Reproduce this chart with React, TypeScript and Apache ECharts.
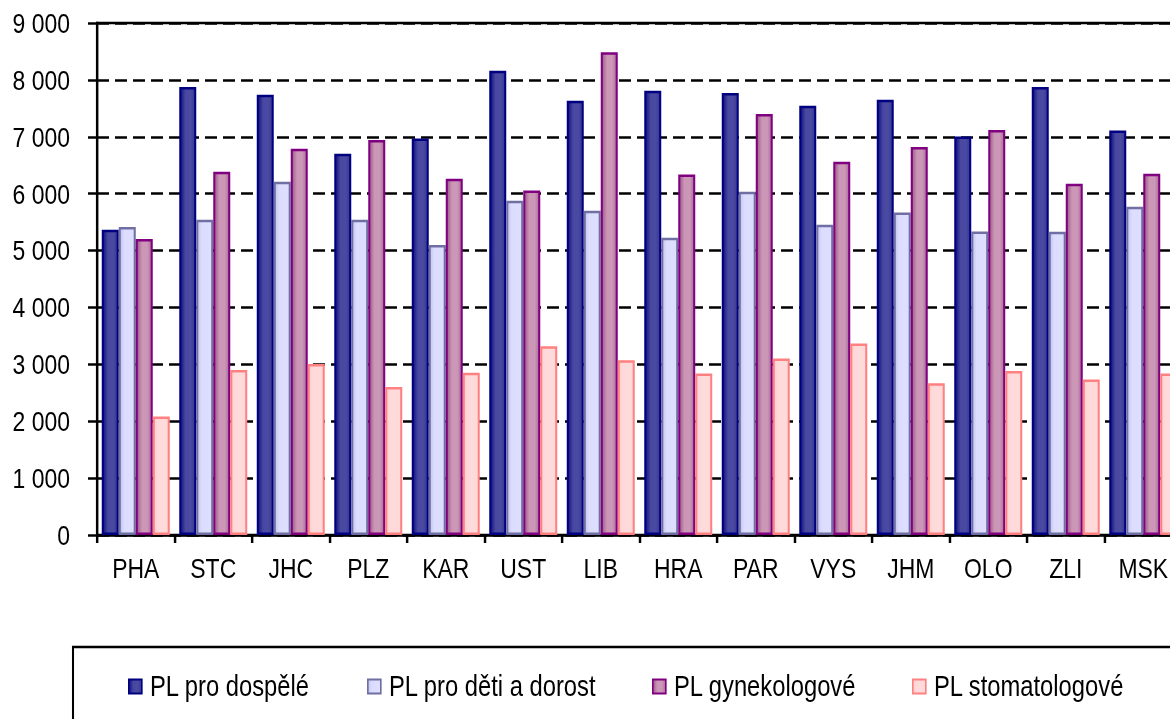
import { useEffect, useRef } from 'react';
import * as echarts from 'echarts';

const categories = ['PHA', 'STC', 'JHC', 'PLZ', 'KAR', 'UST', 'LIB', 'HRA', 'PAR', 'VYS', 'JHM', 'OLO', 'ZLI', 'MSK'];
const seriesNames = ['PL pro dospělé', 'PL pro děti a dorost', 'PL gynekologové', 'PL stomatologové'];
const adults = [5365, 7875, 7740, 6702, 6971, 8162, 7634, 7810, 7770, 7546, 7652, 7006, 7875, 7112];
const children = [5412, 5541, 6209, 5541, 5096, 5875, 5699, 5224, 6033, 5453, 5670, 5335, 5330, 5770];
const gynecology = [5201, 6385, 6790, 6943, 6262, 6057, 8484, 6338, 7400, 6561, 6820, 7118, 6174, 6350];
const dentistry = [2081, 2902, 3008, 2603, 2850, 3319, 3073, 2838, 3101, 3365, 2668, 2885, 2732, 2838];
const yTickLabels = ['0', '1 000', '2 000', '3 000', '4 000', '5 000', '6 000', '7 000', '8 000', '9 000'];

const FONT = "'Liberation Sans', Arial, sans-serif";
// The reference uses a condensed sans face; the whole chart is drawn wider and squeezed horizontally.
const SX = 0.82;
const W = 1170;
const H = 719;
const px = (v: number) => v / SX; // convert on-screen horizontal pixels to pre-scale pixels
const legendLefts = [128, 367, 652, 912];

const grad = (stops: [number, string][]) =>
  new echarts.graphic.LinearGradient(0, 0, 1, 0, stops.map(([offset, color]) => ({ offset, color })));

export default function App() {
  const ref = useRef<HTMLDivElement>(null);
  useEffect(() => {
    if (!ref.current) return;
    const chart = echarts.init(ref.current, undefined, { renderer: 'svg' });
    const styles = [
      {
        color: grad([[0, '#10107f'], [0.35, '#4848a0'], [0.7, '#4a4aa2'], [1, '#36368f']]),
        borderColor: '#000080',
      },
      {
        color: grad([[0, '#c4c4ec'], [0.3, '#dcdcff'], [1, '#dedeff']]),
        borderColor: '#6f6fa3',
      },
      {
        color: grad([[0, '#9a5a88'], [0.35, '#cc96b6'], [0.7, '#cc98b8'], [1, '#a86c98']]),
        borderColor: '#800080',
      },
      {
        color: grad([[0, '#ffd0d0'], [0.3, '#ffdada'], [1, '#ffdada']]),
        borderColor: '#ff8080',
      },
    ];
    const dataSets = [adults, children, gynecology, dentistry];
    chart.setOption({
      animation: false,
      textStyle: { fontFamily: FONT },
      grid: {
        left: px(97),
        top: 23,
        width: px(1085),
        bottom: 184,
        outerBoundsMode: 'none',
        containLabel: false,
        show: true,
        borderColor: '#000',
        borderWidth: 2.5,
        backgroundColor: 'transparent',
      },
      legend: seriesNames.map((name, i) => ({
        left: px(legendLefts[i]),
        top: 672,
        padding: 0,
        itemWidth: px(13),
        itemHeight: 14,
        icon: 'rect',
        textStyle: { fontFamily: FONT, fontSize: 29, lineHeight: 28, color: '#000', padding: [0, 0, 0, 5] },
        data: [name],
      })),
      xAxis: {
        type: 'category',
        data: categories,
        axisLine: { lineStyle: { color: '#000', width: 2.5 } },
        axisTick: { show: true, length: 8, lineStyle: { color: '#000', width: 3 } },
        axisLabel: { color: '#000', fontFamily: FONT, fontSize: 28, margin: 19 },
        splitLine: { show: false },
      },
      yAxis: {
        type: 'value',
        min: 0,
        max: 9000,
        interval: 1000,
        axisLine: { show: true, lineStyle: { color: '#000', width: 3 } },
        axisTick: { show: true, length: px(9), lineStyle: { color: '#000', width: 2.5 } },
        axisLabel: {
          color: '#000',
          fontFamily: FONT,
          fontSize: 28,
          margin: px(27),
          formatter: (v: number) => yTickLabels[Math.round(v / 1000)] ?? String(v),
        },
        splitLine: { show: true, lineStyle: { color: '#000', width: 2.5, type: [px(12), px(6)] } },
      },
      graphic: [
        {
          type: 'rect',
          shape: { x: px(73), y: 647, width: px(1200), height: 120 },
          style: { fill: 'none', stroke: '#000', lineWidth: 2.5 },
          silent: true,
        },
      ],
      series: seriesNames.map((name, i) => ({
        name,
        type: 'bar',
        data: dataSets[i],
        barWidth: px(17),
        barGap: '0%',
        itemStyle: { ...styles[i], borderWidth: 2.5 },
      })),
    });
    return () => chart.dispose();
  }, []);
  return (
    <div
      ref={ref}
      style={{
        position: 'fixed',
        left: 0,
        top: 0,
        width: W / SX,
        height: H,
        transform: `scaleX(${SX})`,
        transformOrigin: '0 0',
      }}
    />
  );
}
